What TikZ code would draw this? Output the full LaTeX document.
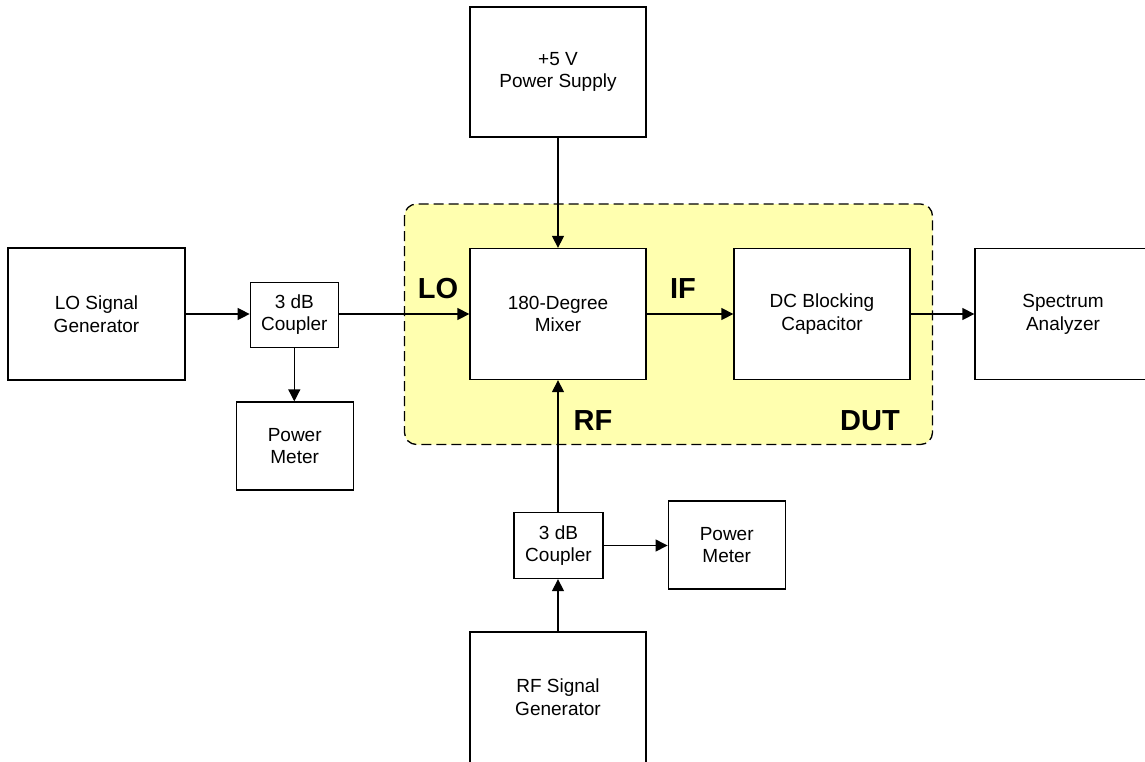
\documentclass[tikz,border=0pt]{standalone}
\usepackage{fontspec}
\setmainfont{Liberation Sans}
\usetikzlibrary{arrows.meta}
\definecolor{dutyellow}{RGB}{255,255,175}
\tikzset{
  box/.style={draw=black, line width=1.3pt, fill=white, rectangle, align=center, inner sep=0pt,
              font=\fontsize{19}{22.7}\selectfont},
  conn/.style={line width=1.3pt, -{Triangle[length=12pt,width=12pt]}},
  lbl/.style={font=\fontsize{29}{32}\selectfont\bfseries, inner sep=0pt},
  dutbox/.style={draw=black, line width=1.3pt, dash pattern=on 10pt off 5pt, fill=dutyellow, rounded corners=12pt}
}
\begin{document}
\begin{tikzpicture}[x=1pt, y=-1pt]
\useasboundingbox (0,0) rectangle (1145,761);
\draw[dutbox] (404.5,204) rectangle (932.5,444.5);
\node[box, minimum width=176pt, minimum height=130pt] (ps) at (558,72) {+5 V\\Power Supply};
\node[box, minimum width=176pt, minimum height=131pt] (mix) at (558,314) {180-Degree\\Mixer};
\node[box, minimum width=176pt, minimum height=131pt] (dc) at (822,314) {DC Blocking\\Capacitor};
\node[box, minimum width=176pt, minimum height=131pt] (sa) at (1063,314) {Spectrum\\Analyzer};
\node[box, minimum width=177pt, minimum height=132pt] (log) at (96.5,314) {LO Signal\\Generator};
\node[box, minimum width=88pt, minimum height=65pt] (loc) at (294.3,314.7) {3 dB\\Coupler};
\node[box, minimum width=117pt, minimum height=88pt] (lopm) at (294.7,446) {Power\\Meter};
\node[box, minimum width=89pt, minimum height=66pt] (rfc) at (558.5,545.5) {3 dB\\Coupler};
\node[box, minimum width=117pt, minimum height=88pt] (rfpm) at (726.7,545) {Power\\Meter};
\node[box, minimum width=176pt, minimum height=131pt] (rfg) at (558,697.5) {RF Signal\\Generator};
\node[lbl] (lolbl) at (438,289) {LO};
\node[lbl] (iflbl) at (683,289) {IF};
\node[lbl] (rflbl) at (593,421) {RF};
\node[lbl] (dutlbl) at (870,421) {DUT};
\draw[conn] (log.east |- 0,314) -- (loc.west |- 0,314);
\draw[conn] (loc.east |- 0,314) -- (mix.west |- 0,314);
\draw[conn] (loc.south -| 294.3,0) -- (lopm.north -| 294.3,0);
\draw[conn] (ps) -- (mix);
\draw[conn] (mix) -- (dc);
\draw[conn] (dc) -- (sa);
\draw[conn] (rfg.north -| 558,0) -- (rfc.south -| 558,0);
\draw[conn] (rfc.north -| 558,0) -- (mix.south -| 558,0);
\draw[conn] (rfc.east |- 0,545.5) -- (rfpm.west |- 0,545.5);
\end{tikzpicture}
\end{document}
